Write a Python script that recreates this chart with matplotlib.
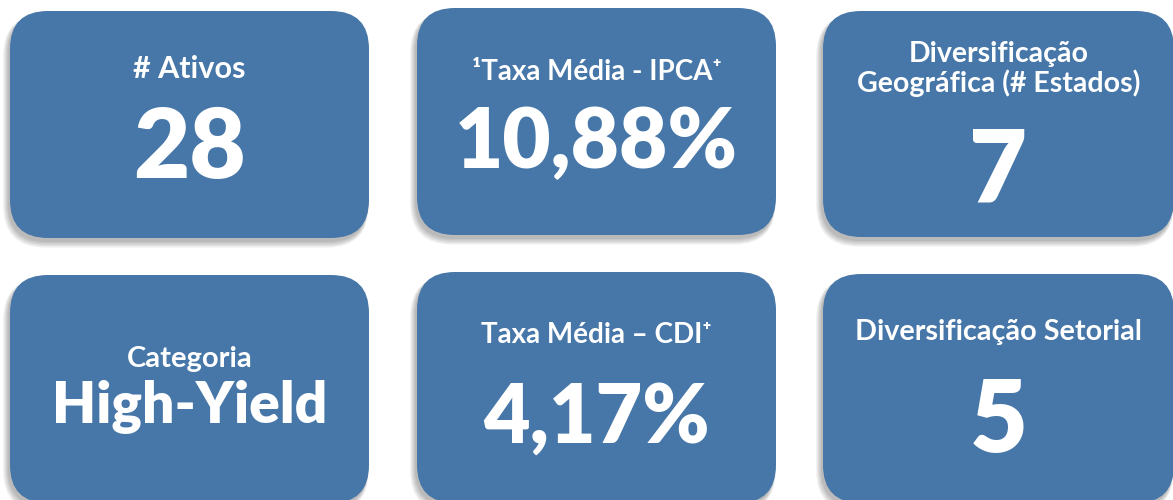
import matplotlib.pyplot as plt
from matplotlib.patches import FancyBboxPatch

plt.rcParams['font.family'] = ['Lato', 'DejaVu Sans']

titles = ['# Ativos', '¹Taxa Média - IPCA⁺', 'Diversificação\nGeográfica (# Estados)',
          'Categoria', 'Taxa Média – CDI⁺', 'Diversificação Setorial']
values = ['28', '10,88%', '7', 'High-Yield', '4,17%', '5']

box_color = '#4677a8'

# layout (pixel coords, y down)
lefts = [10, 417, 823]
rights = [369, 776, 1174]
tops = [[11, 8, 11], [275, 272, 274]]
bottoms = [[238, 235, 237], [503, 503, 503]]
title_base = [[78, 80, 92], [367, 343, 340]]
value_base = [[178, 168, 203], [423, 443, 452]]
title_size = [22, 20, 20.5, 21, 20, 20.7]
value_size = [70, 60, 72, 41, 58, 72]

fig = plt.figure(figsize=(11.73, 5), dpi=100)
ax = fig.add_axes([0, 0, 1, 1])
ax.set_xlim(0, 1173)
ax.set_ylim(500, 0)
ax.axis('off')

for r in range(2):
    for c in range(3):
        i = r * 3 + c
        x0, x1 = lefts[c], rights[c]
        y0, y1 = tops[r][c], bottoms[r][c]
        w, h = x1 - x0, y1 - y0
        # soft shadow, mostly below and to the left
        for k in range(5):
            sh = FancyBboxPatch((x0 - 2 - k * 0.4, y0 + 4 + k * 0.6), w, h,
                                boxstyle=f'round,pad={k * 0.8},rounding_size={38 + k}',
                                facecolor='black', edgecolor='none', alpha=0.06, zorder=1)
            ax.add_patch(sh)
        box = FancyBboxPatch((x0, y0), w, h, boxstyle='round,pad=0,rounding_size=38',
                             facecolor=box_color, edgecolor='none', zorder=2)
        ax.add_patch(box)
        cx = (x0 + x1) / 2
        ax.text(cx, title_base[r][c], titles[i], ha='center', va='baseline',
                fontsize=title_size[i], fontweight='bold', color='white',
                linespacing=1.1, zorder=3)
        ax.text(cx, value_base[r][c], values[i], ha='center', va='baseline',
                fontsize=value_size[i], fontweight='heavy', color='white', zorder=3)

fig.savefig('out.png', dpi=100)
